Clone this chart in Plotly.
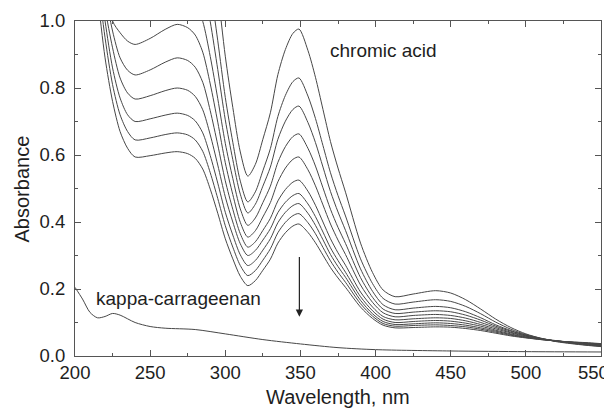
import plotly.graph_objects as go

# Wavelength grid (nm) shared by the chromic acid spectra
wl = [200, 210, 215, 220, 225, 230, 235, 240, 250, 260, 268, 275, 280, 285, 290, 295,
      300, 305, 310, 315, 320, 325, 330, 335, 340, 345, 349, 355, 360, 365, 370, 375,
      380, 390, 398, 405, 413, 425, 440, 450, 460, 470, 480, 490, 500, 510, 520, 530,
      540, 550]

chromic_1 = [2.2, 2.0, 1.9, 1.75, 1.62, 1.54, 1.49, 1.47, 1.50, 1.54, 1.56, 1.545, 1.509, 1.427, 1.274, 1.089,
             0.895, 0.742, 0.609, 0.537, 0.572, 0.647, 0.726, 0.840, 0.915, 0.963, 0.976, 0.912, 0.832, 0.736, 0.640, 0.561,
             0.489, 0.337, 0.249, 0.197, 0.177, 0.185, 0.195, 0.188, 0.168, 0.140, 0.110, 0.085, 0.066, 0.053, 0.043, 0.037,
             0.032, 0.028]
chromic_2 = [2.0, 1.8, 1.68, 1.55, 1.43, 1.35, 1.30, 1.27, 1.30, 1.33, 1.35, 1.337, 1.306, 1.234, 1.101, 0.941,
             0.772, 0.638, 0.522, 0.460, 0.490, 0.553, 0.619, 0.715, 0.778, 0.819, 0.830, 0.776, 0.709, 0.628, 0.547, 0.479,
             0.418, 0.290, 0.216, 0.172, 0.155, 0.161, 0.168, 0.163, 0.148, 0.126, 0.101, 0.080, 0.064, 0.053, 0.044, 0.038,
             0.033, 0.029]
chromic_3 = [1.9, 1.7, 1.56, 1.42, 1.30, 1.22, 1.17, 1.15, 1.17, 1.20, 1.22, 1.208, 1.180, 1.117, 0.998, 0.855,
             0.705, 0.586, 0.483, 0.427, 0.453, 0.507, 0.564, 0.647, 0.701, 0.736, 0.746, 0.697, 0.637, 0.564, 0.491, 0.430,
             0.375, 0.260, 0.193, 0.153, 0.138, 0.143, 0.148, 0.144, 0.132, 0.114, 0.093, 0.076, 0.062, 0.052, 0.045, 0.039,
             0.034, 0.030]
chromic_4 = [1.8, 1.58, 1.44, 1.30, 1.17, 1.09, 1.05, 1.03, 1.05, 1.075, 1.09, 1.08, 1.055, 0.999, 0.894, 0.768,
             0.635, 0.530, 0.439, 0.390, 0.412, 0.458, 0.507, 0.578, 0.625, 0.655, 0.663, 0.620, 0.567, 0.502, 0.438, 0.384,
             0.336, 0.234, 0.175, 0.140, 0.127, 0.131, 0.135, 0.132, 0.122, 0.107, 0.089, 0.074, 0.062, 0.052, 0.046, 0.040,
             0.035, 0.031]
chromic_5 = [1.9, 1.55, 1.30, 1.14, 1.0, 0.965, 0.94, 0.93, 0.948, 0.975, 0.99, 0.98, 0.958, 0.907, 0.812, 0.698,
             0.577, 0.482, 0.399, 0.355, 0.374, 0.415, 0.458, 0.520, 0.561, 0.587, 0.594, 0.556, 0.508, 0.451, 0.394, 0.346,
             0.303, 0.212, 0.160, 0.129, 0.117, 0.121, 0.124, 0.121, 0.113, 0.100, 0.085, 0.071, 0.060, 0.051, 0.045, 0.040,
             0.036, 0.032]
chromic_6 = [1.8, 1.5, 1.27, 1.09, 0.97, 0.89, 0.853, 0.839, 0.854, 0.877, 0.89, 0.882, 0.862, 0.817, 0.732, 0.630,
             0.523, 0.438, 0.365, 0.325, 0.341, 0.375, 0.411, 0.463, 0.497, 0.519, 0.525, 0.492, 0.450, 0.400, 0.350, 0.308,
             0.271, 0.191, 0.146, 0.118, 0.108, 0.111, 0.114, 0.112, 0.105, 0.094, 0.081, 0.069, 0.059, 0.051, 0.045, 0.041,
             0.037, 0.033]
chromic_7 = [1.75, 1.45, 1.22, 1.04, 0.92, 0.83, 0.785, 0.767, 0.777, 0.792, 0.80, 0.793, 0.775, 0.735, 0.660, 0.570,
             0.475, 0.400, 0.335, 0.300, 0.315, 0.346, 0.380, 0.428, 0.459, 0.479, 0.485, 0.454, 0.416, 0.370, 0.323, 0.285,
             0.250, 0.177, 0.135, 0.110, 0.100, 0.103, 0.106, 0.104, 0.098, 0.089, 0.077, 0.066, 0.057, 0.050, 0.045, 0.041,
             0.037, 0.034]
chromic_8 = [1.7, 1.4, 1.17, 1.0, 0.86, 0.77, 0.72, 0.70, 0.708, 0.719, 0.725, 0.718, 0.702, 0.666, 0.598, 0.516,
             0.429, 0.361, 0.302, 0.270, 0.285, 0.316, 0.350, 0.398, 0.429, 0.449, 0.455, 0.426, 0.390, 0.347, 0.303, 0.267,
             0.235, 0.166, 0.126, 0.103, 0.094, 0.096, 0.099, 0.097, 0.092, 0.084, 0.074, 0.064, 0.056, 0.050, 0.045, 0.041,
             0.038, 0.035]
chromic_9 = [1.65, 1.35, 1.13, 0.95, 0.81, 0.72, 0.67, 0.645, 0.651, 0.661, 0.666, 0.660, 0.645, 0.611, 0.547, 0.470,
             0.389, 0.325, 0.270, 0.240, 0.255, 0.286, 0.320, 0.368, 0.399, 0.419, 0.425, 0.398, 0.365, 0.324, 0.284, 0.250,
             0.220, 0.156, 0.119, 0.097, 0.089, 0.091, 0.093, 0.091, 0.087, 0.080, 0.071, 0.062, 0.055, 0.049, 0.045, 0.042,
             0.039, 0.036]
chromic_10 = [1.6, 1.3, 1.08, 0.89, 0.76, 0.67, 0.62, 0.594, 0.598, 0.606, 0.61, 0.604, 0.590, 0.558, 0.498, 0.426,
              0.350, 0.290, 0.238, 0.210, 0.225, 0.256, 0.289, 0.337, 0.368, 0.388, 0.394, 0.369, 0.338, 0.301, 0.264, 0.233,
              0.205, 0.146, 0.112, 0.092, 0.084, 0.085, 0.087, 0.086, 0.082, 0.076, 0.068, 0.060, 0.054, 0.049, 0.045, 0.042,
              0.040, 0.037]

chromic_series = [chromic_1, chromic_2, chromic_3, chromic_4, chromic_5,
                  chromic_6, chromic_7, chromic_8, chromic_9, chromic_10]

# kappa-carrageenan spectrum
wl_kappa = [200, 205, 210, 215, 220, 225, 230, 240, 250, 260, 280, 300, 325, 350, 375, 400, 450, 500, 550]
kappa = [0.205, 0.17, 0.13, 0.114, 0.118, 0.127, 0.122, 0.100, 0.088, 0.083, 0.079, 0.066, 0.049, 0.036,
         0.025, 0.019, 0.015, 0.013, 0.012]

x_ticks = [200, 250, 300, 350, 400, 450, 500, 550]
x_tick_labels = ["200", "250", "300", "350", "400", "450", "500", "550"]
y_ticks = [0.0, 0.2, 0.4, 0.6, 0.8, 1.0]

LINE = "#474747"
TEXT = "#1e1e1e"
AXIS = "#555555"
FONT = "Liberation Sans, Arial, sans-serif"

fig = go.Figure()
for s in chromic_series:
    fig.add_trace(go.Scatter(x=wl, y=s, mode="lines",
                             line=dict(color=LINE, width=1.0, shape="spline", smoothing=0.8),
                             hoverinfo="skip", showlegend=False))
fig.add_trace(go.Scatter(x=wl_kappa, y=kappa, mode="lines",
                         line=dict(color=LINE, width=1.0, shape="spline", smoothing=0.8),
                         hoverinfo="skip", showlegend=False))

fig.add_annotation(x=368.3, y=0.913, xref="x", yref="y", text="chromic acid",
                   showarrow=False, xanchor="left", yanchor="middle",
                   font=dict(family=FONT, size=19, color=TEXT))
fig.add_annotation(x=212.6, y=0.173, xref="x", yref="y", text="kappa-carrageenan",
                   showarrow=False, xanchor="left", yanchor="middle",
                   font=dict(family=FONT, size=19, color=TEXT))
fig.add_annotation(x=349.3, y=0.117, ax=349.3, ay=0.30, xref="x", yref="y",
                   axref="x", ayref="y", text="", showarrow=True,
                   arrowhead=2, arrowsize=1.2, arrowwidth=1.2, arrowcolor="#222")

# axis titles
fig.add_annotation(x=-0.1008, y=0.5, xref="paper", yref="paper", text="Absorbance",
                   textangle=-90, showarrow=False, xanchor="center", yanchor="middle",
                   font=dict(family=FONT, size=20, color=TEXT))
fig.add_annotation(x=0.5, y=-0.1224, xref="paper", yref="paper", text="Wavelength, nm",
                   showarrow=False, xanchor="center", yanchor="middle",
                   font=dict(family=FONT, size=20, color=TEXT))

# last x tick label, kept inside the window's right edge as in the reference
fig.add_annotation(x=1.019, y=-0.048, xref="paper", yref="paper", text=x_tick_labels[-1],
                   showarrow=False, xanchor="right", yanchor="middle",
                   font=dict(family=FONT, size=18.5, color=TEXT))

axis_common = dict(showline=True, linecolor=AXIS, linewidth=1.2, mirror="ticks",
                   ticks="inside", ticklen=6, tickwidth=1.2, tickcolor=AXIS,
                   showgrid=False, zeroline=False, automargin=False,
                   ticklabeloverflow="allow",
                   tickfont=dict(family=FONT, size=18.5, color=TEXT))

fig.update_xaxes(range=[200, 550], tickvals=x_ticks,
                 ticktext=x_tick_labels[:-1] + [""],
                 ticklabelstandoff=0,
                 minor=dict(ticks="inside", ticklen=3, dtick=25, tick0=200, tickcolor=AXIS, showgrid=False),
                 **axis_common)
fig.update_yaxes(range=[0, 1.0], tickvals=y_ticks, ticktext=[f"{v:.1f}" for v in y_ticks],
                 ticklabelstandoff=5,
                 minor=dict(ticks="inside", ticklen=3, dtick=0.1, tick0=0, tickcolor=AXIS, showgrid=False),
                 **axis_common)

# the page adds an 8px body margin, so the figure is sized to fit the 612x414 window
fig.update_layout(width=604, height=406, margin=dict(l=67, r=11, t=13, b=58),
                  plot_bgcolor="white", paper_bgcolor="white")

fig.write_html("out.html")
